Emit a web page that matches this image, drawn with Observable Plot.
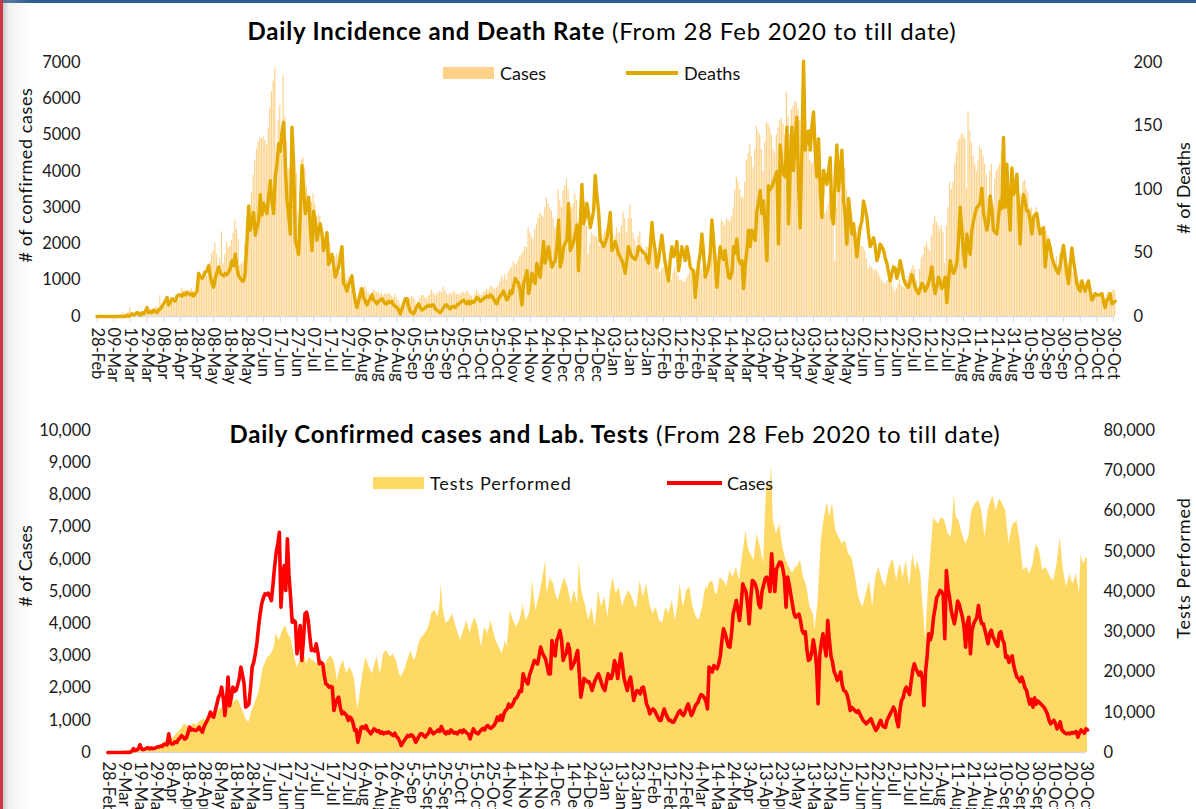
<!DOCTYPE html>
<html><head><meta charset="utf-8">
<script src="https://cdn.jsdelivr.net/npm/d3@7"></script>
<script src="https://cdn.jsdelivr.net/npm/@observablehq/plot@0.6"></script>
<style>
html,body{margin:0;padding:0;background:#fff;}
body{width:1196px;height:809px;overflow:hidden;position:relative;font-family:Lato,"Open Sans",sans-serif;color:#111;}
.layer{position:absolute;left:0;}
.title{position:absolute;white-space:nowrap;font-size:24px;letter-spacing:0.8px;line-height:30px;color:#000;transform:translateX(-50%);}
.title b{font-weight:700;}
.leg{position:absolute;font-size:18px;line-height:22px;white-space:nowrap;color:#111;}
.axt{position:absolute;font-size:18px;line-height:22px;white-space:nowrap;color:#111;transform:translate(-50%,-50%) rotate(-90deg);}
.sw{position:absolute;}
</style></head><body>
<div style="position:absolute;left:0;top:0;width:1196px;height:3px;background:#2f5f91"></div>
<div style="position:absolute;left:0;top:0;width:30px;height:809px;background:linear-gradient(to right,rgba(120,120,120,0.55),rgba(200,200,200,0.25) 30%,rgba(255,255,255,0))"></div>
<div style="position:absolute;left:0;top:0;width:3px;height:809px;background:#c8374a"></div>

<div class="title" style="left:602px;top:16px"><b>Daily Incidence and Death Rate</b> (From 28 Feb 2020 to till date)</div>
<div class="title" style="left:615px;top:419px"><b>Daily Confirmed cases and Lab. Tests</b> (From 28 Feb 2020 to till date)</div>

<div id="topA" class="layer" style="top:0"></div>
<div id="topB" class="layer" style="top:0"></div>
<div id="botC" class="layer" style="top:400px"></div>
<div id="botD" class="layer" style="top:400px"></div>

<div class="sw" style="left:443px;top:67px;width:51px;height:12px;background:#FFD28A"></div>
<div class="leg" style="left:500px;top:62px">Cases</div>
<div class="sw" style="left:626px;top:71px;width:52px;height:3.5px;background:#E2AA00"></div>
<div class="leg" style="left:684px;top:62px">Deaths</div>

<div class="sw" style="left:373px;top:477px;width:51px;height:12px;background:#FFD966"></div>
<div class="leg" style="left:430px;top:472px;letter-spacing:0.9px">Tests Performed</div>
<div class="sw" style="left:667px;top:481px;width:55px;height:4px;background:#FF0000"></div>
<div class="leg" style="left:727px;top:472px">Cases</div>

<div class="axt" style="left:25px;top:175px;letter-spacing:0.6px"># of confirmed cases</div>
<div class="axt" style="left:1183px;top:188px"># of Deaths</div>
<div class="axt" style="left:25px;top:566px"># of Cases</div>
<div class="axt" style="left:1183px;top:568px;letter-spacing:0.9px">Tests Performed</div>

<script>
// ---- data (daily, from 28 Feb 2020) ----
const startDay = "2020-02-28";

const cases = [
0,0,1,0,0,1,0,0,1,0,
0,3,2,5,8,40,120,60,80,110,
240,120,90,100,130,150,110,140,120,130,
150,180,170,200,190,250,260,240,580,300,
260,280,330,310,400,450,520,480,415,450,
600,787,700,720,690,680,720,787,700,630,
800,900,994,1100,1253,1150,1097,1300,1500,1718,
1800,2029,1700,1150,1600,2340,1450,1700,2029,1900,
1925,2100,2300,2650,2400,2132,1408,1450,1510,2000,
2650,2800,3065,3400,3893,4300,4617,4800,4928,4900,
4950,4850,4720,5200,5756,6200,6480,6842,4514,5400,
5808,5030,6636,5500,4825,4048,4100,4050,3065,3500,
3945,2857,3500,4307,4358,4100,3600,3168,3200,3150,
3376,3100,2755,2800,2755,2400,2133,2100,2029,2050,
2029,1305,1500,1650,1718,1400,1200,1250,1200,1150,
994,1100,1050,900,683,700,320,550,787,800,
750,838,700,650,580,650,735,700,650,680,
600,640,580,620,600,640,600,560,528,600,
500,450,350,217,300,380,450,528,500,550,
528,450,320,400,500,580,580,520,480,550,
600,735,650,580,620,650,700,650,807,700,
620,580,650,600,700,650,600,620,580,650,
680,620,700,650,600,560,424,600,735,650,
600,580,650,700,750,700,800,838,780,750,
800,850,950,1097,1000,1150,1000,1200,1305,1350,
1500,1408,1450,1550,1667,1700,1800,1925,1900,2443,
2300,2200,2132,2400,2547,2700,2857,2800,2750,3000,
3272,3100,3000,2900,2700,2443,2443,3479,3200,3000,
3479,3600,3790,3500,2857,3000,3100,3376,3200,2600,
2700,2800,3000,3168,2500,1718,2000,2300,2250,2200,
2200,2100,1925,2100,2250,2350,2443,2300,2132,2000,
1925,2200,2443,2300,2300,2500,2857,2700,2300,2700,
3065,2700,2300,2100,1925,2200,2340,2000,1615,1800,
1925,1900,1820,2000,2029,1800,1510,1400,1200,1300,
1350,1300,1200,1100,1000,994,1200,1350,1200,1100,
994,1000,942,950,1050,1150,1250,1305,1200,1150,
1250,1400,1510,1300,1150,1250,1400,1500,1550,1700,
1800,1770,1700,1600,1357,2650,2600,2500,2700,2650,
2600,2750,3000,3479,3842,3700,3500,3300,3272,3700,
4307,4500,4721,4400,4100,4600,5239,5100,5000,4600,
3997,4800,5342,5300,5200,5000,4600,4500,5000,5200,
5400,5446,5300,5000,6170,5500,5000,5700,5800,5912,
5900,5700,5400,4514,5446,5200,4900,4600,4300,4203,
4250,4300,4100,3790,3700,3750,3200,2857,2900,3100,
3500,3200,2700,1512,3000,3400,3686,3300,3000,4100,
3500,3000,2800,2500,2400,2236,2300,2500,2100,1925,
1900,1800,1600,1305,1400,1350,1300,1250,1300,1200,
1100,1000,950,890,950,1000,1050,900,800,683,
750,900,1000,850,800,780,1000,1100,1200,1300,
1408,1300,1000,800,1300,1615,1700,1925,2029,1900,
1800,2200,2547,2755,2600,2500,2400,2500,2300,1460,
2500,3000,3686,3500,3700,4203,4500,4825,4900,5032,
5000,4900,3531,5653,5100,4800,4410,4200,3997,4300,
4700,4600,4400,4200,3900,3272,4000,4200,3065,3800,
4000,4100,4200,4565,4200,4000,4000,3800,3600,3376,
3700,3800,3600,3500,3376,3300,3700,3750,3500,3400,
2960,3000,2800,2900,3000,2700,2500,2340,2300,2200,
2340,2200,2000,1925,1700,1500,1650,1408,1700,1500,
1600,1550,1500,1450,1400,1300,1200,1000,890,950,
1000,900,735,800,950,700,650,600,580,600,
580,620,600,620,650,476,600,700,650,600,
735,700
];

const deaths = [
0,0,0,0,0,0,0,0,0,0,
0,0,0,0,0,0,0,0,1,0,
1,2,1,2,3,2,1,3,2,4,
7,3,4,3,5,4,3,5,6,8,
10,12,15,9,11,14,13,12,16,17,
17,16,18,17,19,18,17,18,16,18,
20,34,31,30,32,35,36,40,32,26,
23,30,35,39,34,33,32,34,33,35,
38,44,40,49,38,32,30,28,28,35,
60,87,68,75,82,64,70,75,96,80,
89,85,81,95,107,90,81,110,120,136,
130,145,153,120,91,80,65,149,120,60,
55,49,80,119,100,81,85,94,70,52,
83,75,60,68,73,65,52,58,66,41,
45,49,40,31,35,39,48,55,26,24,
20,25,28,32,20,12,7,12,18,22,
15,12,9,12,14,17,13,12,10,12,
13,14,12,10,10,12,11,12,9,8,
7,5,2,6,10,14,14,8,4,3,
2,5,8,10,7,5,6,7,8,9,
8,9,9,6,5,4,3,5,7,9,
9,7,6,8,8,7,9,10,11,12,
13,11,10,12,10,12,11,13,15,14,
12,13,14,15,16,15,17,16,14,11,
10,14,16,18,20,16,13,15,20,18,
24,30,28,26,20,9,26,30,36,18,
25,34,28,26,42,35,31,45,59,42,
48,55,45,39,42,44,55,76,39,45,
55,58,60,89,52,55,59,65,72,36,
73,104,73,78,89,80,70,76,83,111,
95,83,60,58,55,58,62,70,82,52,
55,59,54,49,47,44,40,34,45,55,
50,47,46,45,48,55,53,52,50,49,
45,42,55,74,60,52,39,44,55,64,
52,42,35,28,45,55,47,50,59,36,
45,55,50,44,55,48,39,37,36,15,
30,42,50,65,50,31,35,39,50,76,
60,42,23,40,55,49,45,52,40,31,
30,35,55,50,61,45,42,44,22,40,
52,68,55,68,64,60,83,90,99,81,
91,70,44,103,100,102,106,110,114,57,
135,120,112,110,149,73,120,149,115,140,
157,104,70,130,201,131,140,146,131,150,
161,130,110,140,100,78,115,110,104,115,
125,78,73,110,135,99,115,131,91,80,
57,93,80,65,73,60,47,60,70,75,
91,85,78,65,55,58,62,55,44,48,
57,55,52,46,42,35,28,34,39,38,
30,35,44,38,30,26,24,23,28,33,
28,23,20,18,22,26,24,20,23,26,
32,39,25,18,24,31,27,22,26,31,
11,28,44,38,34,37,42,60,86,68,
50,39,65,55,49,68,75,81,86,87,
90,101,81,75,68,75,95,85,68,66,
65,78,91,85,141,86,120,90,68,117,
96,100,112,85,57,86,96,90,83,83,
75,65,78,80,81,72,65,68,70,39,
52,60,54,47,42,39,36,34,40,49,
56,45,34,26,40,54,44,35,26,22,
20,28,24,20,24,28,20,13,15,18,
17,17,17,18,12,7,13,14,18,10,
11,12
];

const tests = [
100,120,150,130,160,180,200,220,250,300,
300,350,400,450,500,550,600,700,800,900,
900,1000,1100,1000,1200,1300,1200,1400,1300,1200,
1300,1500,1800,2000,2200,2500,2800,3000,3200,3400,
3500,3800,4200,4600,5000,5400,6000,6500,7100,6800,
6500,6300,6600,6900,7200,6900,6900,7500,7800,8000,
8300,8000,8800,9000,9200,9500,9800,10000,10000,10500,
10800,11000,11300,11600,11800,12000,12100,12300,12500,12700,
12900,13200,12500,11500,10500,9600,8500,7800,7500,9000,
10500,11300,12500,13500,14600,16500,19000,21200,22000,23000,
23700,24000,24500,25300,26500,29500,28500,27800,29000,30300,
31000,31500,30000,29000,28600,27000,24500,23000,21200,22000,
22850,23500,24500,23700,22000,23000,23700,23000,22850,22500,
22000,22500,22850,21500,20400,21000,22000,23000,23500,24100,
23500,22850,21000,17900,19500,21200,22000,22850,21000,19500,
20500,21200,20400,19500,18000,13700,10850,13500,16600,19500,
21500,23700,22500,21200,20400,19500,21000,22500,23700,21500,
19500,22000,24500,25000,25300,24500,23700,24000,24500,23500,
22850,21000,19500,18700,19500,20400,21500,22850,24000,25300,
24000,22850,23500,25000,27000,28000,28700,29000,29500,30300,
31100,32500,34450,35000,35300,34500,33600,36000,41900,36100,
34000,32000,32400,32800,33500,34450,33000,31500,30300,29000,
27800,29000,30300,31500,32800,31000,29500,31500,32500,33600,
32300,31100,28500,26200,28800,31100,30300,29500,31000,32800,
31000,29500,28000,27000,26200,25300,24500,26000,27800,26200,
30000,35300,34000,32800,32000,31100,32000,32800,34500,36900,
34500,32800,33600,34450,38000,42700,38500,35300,37000,38600,
40500,42700,45000,47700,39400,41500,43500,42500,41900,40000,
38500,37800,39500,41100,42300,43500,42000,41100,39000,36900,
38500,40200,38500,36900,47700,42000,39400,37800,36500,34500,
32800,34500,36100,33500,31100,35500,40200,38000,36100,37500,
38600,36000,33600,38000,41000,43500,41500,39400,40200,41100,
38500,36100,37500,38600,39500,40200,39500,38600,37500,36100,
36100,39500,42700,40500,38600,40200,41900,39500,36900,35500,
34450,35300,36100,34500,32800,32400,32000,34000,36100,35300,
34450,36000,37800,35300,32800,35000,38500,41900,38500,36100,
38000,40200,40700,41100,38500,36100,35000,33600,33200,32800,
35000,36100,39000,41100,40500,41900,42300,42700,41500,39400,
39400,41500,43500,43000,42700,42000,41100,43000,45200,44300,
43500,44800,46000,44300,42700,46000,49300,52000,55150,52000,
50000,49300,48500,47700,51000,54300,52500,51000,49000,46900,
58000,66700,66300,65900,71300,58000,56000,54300,55500,56800,
53800,51000,49300,47700,47000,46000,45200,44400,45200,46000,
46000,47000,47700,45500,43500,42300,41100,38500,36100,35300,
34450,30300,34000,37800,45000,52700,56000,58500,60500,62200,
58500,60000,61800,58500,55150,54300,53500,52700,51800,52200,
52700,51000,49300,48900,48500,46500,44400,42000,39400,37800,
36900,36100,37800,39400,41000,42700,39400,36100,40000,43500,
45000,46000,44300,42700,41900,41100,43000,45200,46500,47700,
47700,45000,42700,44800,46900,45500,43500,45500,47700,44500,
41100,45000,49300,47000,45200,47700,46000,44400,38600,33600,
27800,35300,42000,47700,53000,58450,57600,57200,56800,57500,
58450,58000,57600,56000,54300,54000,53500,58000,64300,58450,
58000,57600,55500,54300,53000,51800,52700,53500,57000,60100,
61000,61800,62200,62600,61500,60100,57000,53500,56500,60100,
61500,62600,63800,62000,60100,61500,63000,62500,61800,61000,
60100,56000,51800,54000,56000,56800,57200,57600,55000,52700,
48500,45200,45600,46000,45200,44400,45500,46900,49300,51800,
51000,50200,48000,45200,45600,46000,45200,44400,43500,43000,
42700,44800,46900,50000,53500,49000,45200,43000,41100,42700,
44400,43000,41900,43000,44400,42000,39400,49300,47500,46900,
48500,48000
];

const topTickLabels = ["28-Feb","09-Mar","19-Mar","29-Mar","08-Apr","18-Apr","28-Apr","08-May","18-May","28-May","07-Jun","17-Jun","27-Jun","07-Jul","17-Jul","27-Jul","06-Aug","16-Aug","26-Aug","05-Sep","15-Sep","25-Sep","05-Oct","15-Oct","25-Oct","04-Nov","14-Nov","24-Nov","04-Dec","14-Dec","24-Dec","03-Jan","13-Jan","23-Jan","02-Feb","12-Feb","22-Feb","04-Mar","14-Mar","24-Mar","03-Apr","13-Apr","23-Apr","03-May","13-May","23-May","02-Jun","12-Jun","22-Jun","02-Jul","12-Jul","22-Jul","01-Aug","11-Aug","21-Aug","31-Aug","10-Sep","20-Sep","30-Sep","10-Oct","20-Oct","30-Oct"];
const bottomTickLabels = ["28-Feb","9-Mar","19-Mar","29-Mar","8-Apr","18-Apr","28-Apr","8-May","18-May","28-May","7-Jun","17-Jun","27-Jun","7-Jul","17-Jul","27-Jul","6-Aug","16-Aug","26-Aug","5-Sep","15-Sep","25-Sep","5-Oct","15-Oct","25-Oct","4-Nov","14-Nov","24-Nov","4-Dec","14-Dec","24-Dec","3-Jan","13-Jan","23-Jan","2-Feb","12-Feb","22-Feb","4-Mar","14-Mar","24-Mar","3-Apr","13-Apr","23-Apr","3-May","13-May","23-May","2-Jun","12-Jun","22-Jun","2-Jul","12-Jul","22-Jul","1-Aug","11-Aug","21-Aug","31-Aug","10-Sep","20-Sep","30-Sep","10-Oct","20-Oct","30-Oct"];

const casesTicks = [0,1000,2000,3000,4000,5000,6000,7000];
const deathTicks = [0,50,100,150,200];
const caseTicks2 = [0,1000,2000,3000,4000,5000,6000,7000,8000,9000,10000];
const testTicks = [0,10000,20000,30000,40000,50000,60000,70000,80000];

// ---- build ----
const DAY = 864e5;
const t0 = Date.parse(startDay + "T00:00:00Z");
const dates = cases.map((_, i) => new Date(t0 + i * DAY));
const rows = dates.map((date, i) => ({date, cases: cases[i], deaths: deaths[i], tests: tests[i]}));
const tickDates = topTickLabels.map((_, k) => dates[k * 10]);
const topMap = new Map(tickDates.map((d, k) => [+d, topTickLabels[k]]));
const botMap = new Map(tickDates.map((d, k) => [+d, bottomTickLabels[k]]));
const xDomain = [tickDates[0], tickDates[tickDates.length - 1]];

const barColor = "#FFD28A", deathColor = "#E2AA00", testColor = "#FFD966", caseRed = "#FF0000";
const style = {fontFamily: "Lato, 'Open Sans', sans-serif", fontSize: "16.5px", color: "#1a1a1a", background: "transparent", overflow: "visible"};

const topDims = {width: 1196, height: 400, marginTop: 62, marginBottom: 84, marginLeft: 96.5, marginRight: 83};
const botDims = {width: 1196, height: 412, marginTop: 30, marginBottom: 60, marginLeft: 107.3, marginRight: 110.6};

const topA = Plot.plot({
  ...topDims, style,
  x: {type: "utc", domain: xDomain},
  y: {domain: [0, 7000]},
  marks: [
    Plot.rectY(rows, {x1: d => new Date(+d.date - 0.36 * DAY), x2: d => new Date(+d.date + 0.36 * DAY), y: "cases", fill: barColor}),
    Plot.ruleY([0], {stroke: "#D9D9D9", strokeWidth: 1.5}),
    Plot.axisY({ticks: casesTicks, tickSize: 0, tickPadding: 16.5, tickFormat: d3.format("d"), label: null}),
    Plot.axisX({ticks: tickDates, tickFormat: d => topMap.get(+d), tickRotate: 90, tickSize: 6, tickPadding: 5, stroke: "#D9D9D9", fill: "#1a1a1a", label: null})
  ]
});
document.getElementById("topA").append(topA);

const topB = Plot.plot({
  ...topDims, style,
  x: {type: "utc", domain: xDomain, axis: null},
  y: {domain: [0, 200]},
  marks: [
    Plot.lineY(rows, {x: "date", y: "deaths", stroke: deathColor, strokeWidth: 3.4, strokeLinejoin: "round"}),
    Plot.axisY({anchor: "right", ticks: deathTicks, tickSize: 0, tickPadding: 20, tickFormat: d3.format("d"), label: null})
  ]
});
document.getElementById("topB").append(topB);

const botC = Plot.plot({
  ...botDims, style,
  x: {type: "utc", domain: xDomain},
  y: {domain: [0, 80000]},
  marks: [
    Plot.areaY(rows, {x: "date", y: "tests", fill: testColor}),
    Plot.ruleY([0], {stroke: "#D9D9D9", strokeWidth: 1.5}),
    Plot.axisY({anchor: "right", ticks: testTicks, tickSize: 0, tickPadding: 17.5, tickFormat: d3.format(","), label: null}),
    Plot.axisX({ticks: tickDates, tickFormat: d => botMap.get(+d), tickRotate: 90, tickSize: 0, tickPadding: 9, fill: "#1a1a1a", label: null})
  ]
});
document.getElementById("botC").append(botC);

const botD = Plot.plot({
  ...botDims, style,
  x: {type: "utc", domain: xDomain, axis: null},
  y: {domain: [0, 10000]},
  marks: [
    Plot.lineY(rows, {x: "date", y: "cases", stroke: caseRed, strokeWidth: 3.6, strokeLinejoin: "round"}),
    Plot.axisY({ticks: caseTicks2, tickSize: 0, tickPadding: 17, tickFormat: d3.format(","), label: null})
  ]
});
document.getElementById("botD").append(botD);
</script>
</body></html>
